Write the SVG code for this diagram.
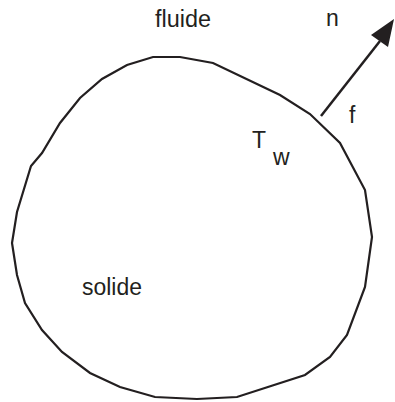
<svg xmlns="http://www.w3.org/2000/svg" width="395" height="402" viewBox="0 0 395 402">
<style>
.t{font-family:"Liberation Sans",Arial,sans-serif;font-size:23px;fill:#231f20}
.s{fill:none;stroke:#231f20;stroke-width:2.2;stroke-linejoin:miter}
</style>
<rect width="395" height="402" fill="#fff"/>
<g id="solid">
<polygon class="s" points="153,57 180,57 213,63 280,95 310,114 340,143 365,190 372,237 365,287 347,335 330,357 305,375 237,397 197,399 155,397 120,387 90,373 62,352 42,330 25,303 17,275 12,243 17,212 31,166 42,153 60,123 80,98 102,79 127,65"/>
<text class="t" x="82" y="294.5" textLength="60" lengthAdjust="spacingAndGlyphs">solide</text>
</g>
<g id="labels">
<text class="t" x="155" y="26.5" textLength="56" lengthAdjust="spacingAndGlyphs">fluide</text>
<text class="t" x="326" y="26">n</text>
<text class="t" x="349" y="123">f</text>
<text class="t" x="252" y="147.5">T</text>
<text class="t" x="273" y="164.5">w</text>
</g>
<g id="connectors">
<line x1="321" y1="116" x2="380" y2="41" stroke="#231f20" stroke-width="2.5"/>
<polygon points="394,19 371,35 388,47" fill="#231f20"/>
</g>
</svg>
